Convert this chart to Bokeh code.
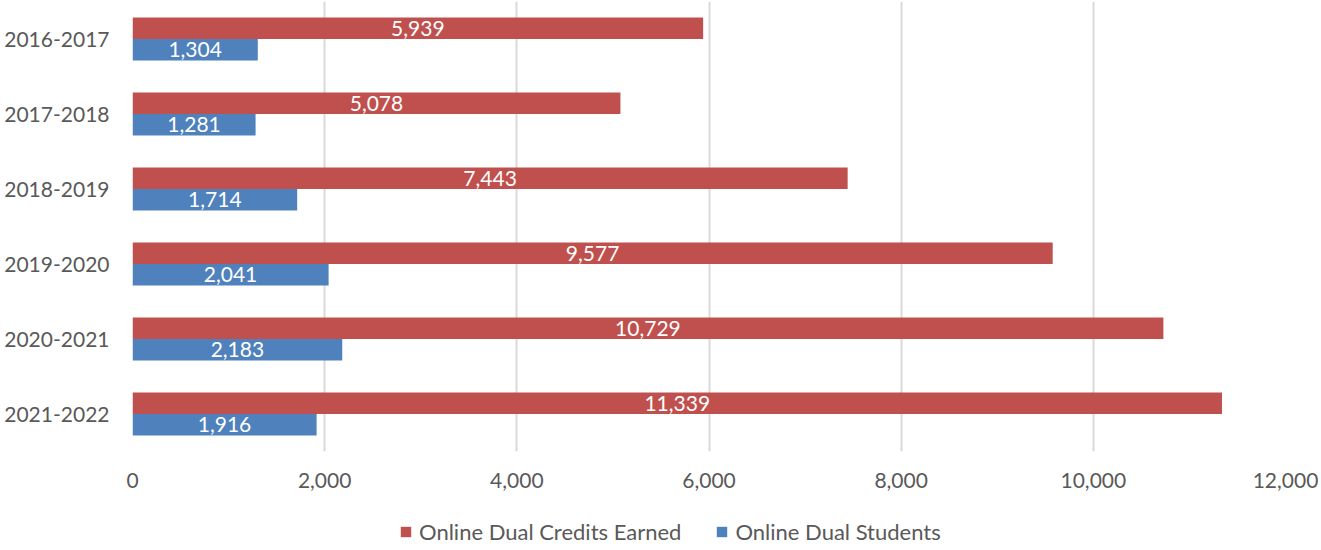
from bokeh.plotting import figure
from bokeh.layouts import column
from bokeh.models import (FactorRange, Range1d, Legend, LegendItem, ColumnDataSource,
                          NumeralTickFormatter, FixedTicker)
from bokeh.transform import dodge
from bokeh.core.properties import value
from bokeh.embed import file_html
from bokeh.resources import INLINE

years = ["2016-2017", "2017-2018", "2018-2019", "2019-2020", "2020-2021", "2021-2022"]
credits = [5939, 5078, 7443, 9577, 10729, 11339]
students = [1304, 1281, 1714, 2041, 2183, 1916]
x_ticks = [0, 2000, 4000, 6000, 8000, 10000, 12000]
series_names = ["Online Dual Credits Earned", "Online Dual Students"]

RED = "#C0504D"
BLUE = "#4F81BD"
GREY_TEXT = "#595959"
FONT = "Lato"
FS = "21px"

src = ColumnDataSource(dict(
    year=years,
    credits=credits,
    students=students,
    cmid=[v / 2 for v in credits],
    smid=[v / 2 for v in students],
    clab=["{:,}".format(v) for v in credits],
    slab=["{:,}".format(v) for v in students],
))

p = figure(frame_width=1153, frame_height=450,
           y_range=FactorRange(factors=years[::-1], range_padding=0),
           x_range=Range1d(0, 12000),
           output_backend="svg", toolbar_location=None,
           min_border_left=132, min_border_right=36,
           min_border_top=1, min_border_bottom=52)

off = 0.143
h = 0.286
r1 = p.hbar(y=dodge("year", off, range=p.y_range), right="credits", left=0, height=h,
            source=src, fill_color=RED, line_color=None)
r2 = p.hbar(y=dodge("year", -off, range=p.y_range), right="students", left=0, height=h,
            source=src, fill_color=BLUE, line_color=None)

p.text(x="cmid", y=dodge("year", off, range=p.y_range), text="clab", source=src,
       text_align="center", text_baseline="middle", text_color="white",
       text_font=value(FONT), text_font_size=FS)
p.text(x="smid", y=dodge("year", -off, range=p.y_range), text="slab", source=src,
       text_align="center", text_baseline="middle", text_color="white",
       text_font=value(FONT), text_font_size=FS)

p.outline_line_color = None
p.ygrid.grid_line_color = None
p.xgrid.grid_line_color = "#D9D9D9"
p.xgrid.grid_line_width = 2

p.xaxis.ticker = FixedTicker(ticks=x_ticks)
p.xaxis.formatter = NumeralTickFormatter(format="0,0")
for ax in (p.xaxis, p.yaxis):
    ax.axis_line_color = None
    ax.major_tick_line_color = None
    ax.minor_tick_line_color = None
    ax.major_label_text_font = FONT
    ax.major_label_text_font_size = FS
    ax.major_label_text_color = GREY_TEXT
p.xaxis.major_label_standoff = 15
p.yaxis.major_label_standoff = 17

# legend strip below the chart
lg = figure(width=1321, height=47, x_range=Range1d(0, 1321), y_range=Range1d(0, 47),
            output_backend="svg", toolbar_location=None, min_border=0,
            x_axis_location=None, y_axis_location=None)
lg.outline_line_color = None
lg.grid.grid_line_color = None
proxy = ColumnDataSource(dict(y=[-100], r=[1]))
l1 = lg.hbar(y="y", right="r", height=1, source=proxy, fill_color=RED, line_color=None)
l2 = lg.hbar(y="y", right="r", height=1, source=proxy, fill_color=BLUE, line_color=None)
legend = Legend(items=[LegendItem(label=series_names[0], renderers=[l1]),
                       LegendItem(label=series_names[1], renderers=[l2])],
                orientation="horizontal", location=(267, 5),
                border_line_color=None, background_fill_alpha=0,
                glyph_width=13, glyph_height=13, label_standoff=7, spacing=34,
                label_text_font=FONT, label_text_font_size="22px",
                label_text_color=GREY_TEXT, padding=0, margin=0)
lg.add_layout(legend, "center")

layout = column(p, lg, spacing=0)
open("out.html", "w").write(file_html(layout, INLINE))
